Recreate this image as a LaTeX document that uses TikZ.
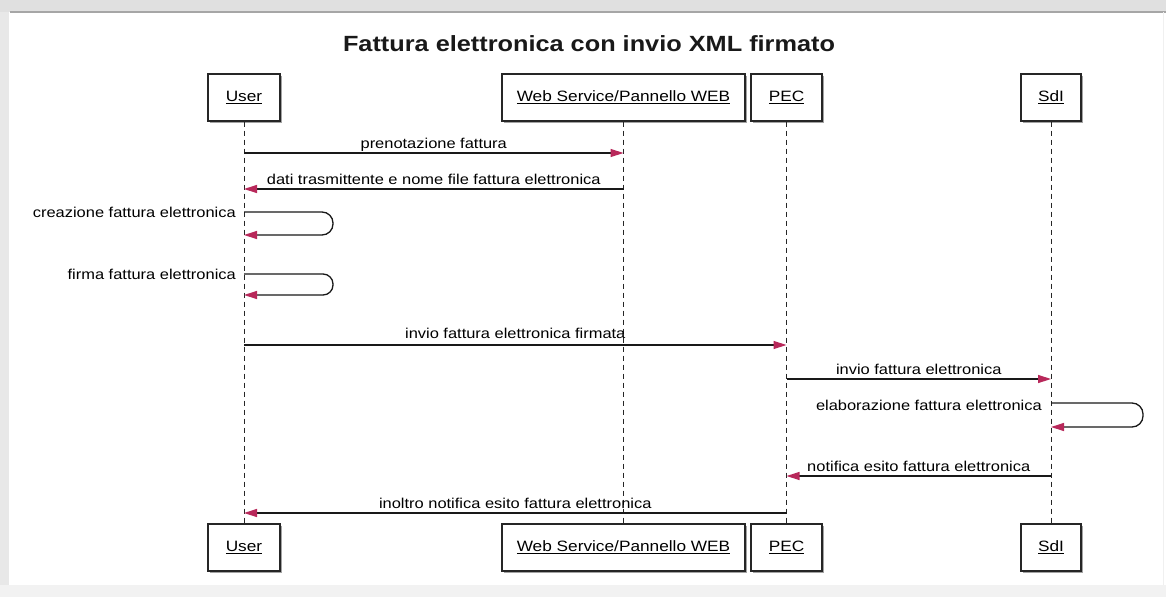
\documentclass[tikz,border=0pt]{standalone}
\usepackage{fontspec}
\setmainfont{Liberation Sans}
\newfontfamily\lblfont[FakeStretch=1.15]{Liberation Sans}
\usetikzlibrary{arrows.meta,calc,shadows}
\definecolor{tipred}{HTML}{B8285A}
\begin{document}
\begin{tikzpicture}[x=1pt,y=-1pt,
  actor/.style={draw=black!85,line width=1.4pt,fill=white,minimum height=47pt,inner sep=0pt,
    drop shadow={shadow xshift=1.5pt,shadow yshift=-1.5pt,fill=black!45,opacity=0.8},
    font=\lblfont\fontsize{15}{18}\selectfont},
  life/.style={black!85,line width=1pt,dash pattern=on 5pt off 4pt},
  msg/.style={black!90,line width=1.3pt,-{Triangle[length=13pt,width=8pt,color=tipred]}},
  lbl/.style={font=\lblfont\fontsize{14.3}{17}\selectfont,inner sep=0pt,anchor=base},
  slbl/.style={font=\lblfont\fontsize{14.3}{17}\selectfont,inner sep=0pt,anchor=base east},
]
\useasboundingbox (0,0) rectangle (1166,597);
% page frame
\fill[white] (0,0) rectangle (1166,597);
\fill[black!12] (0,0) rectangle (1166,12);
\draw[black!35,line width=1.5pt] (10,12) -- (1166,12);
\fill[black!9] (0,12) rectangle (9,585);
\fill[black!5] (0,585) rectangle (1166,597);
\draw[black!6,line width=1pt] (1163,12) -- (1163,585);

% title
\node[font=\lblfont\bfseries\fontsize{22}{26}\selectfont,text=black!90] (title) at (589,44) {Fattura elettronica con invio XML firmato};

% actors top
\node[actor,minimum width=72pt] (uT) at (244,97.5) {\underline{User}};
\node[actor,minimum width=243pt] (wT) at (623.5,97.5) {\underline{Web Service/Pannello WEB}};
\node[actor,minimum width=71pt] (pT) at (786.5,97.5) {\underline{PEC}};
\node[actor,minimum width=60pt] (sT) at (1051,97.5) {\underline{SdI}};
% actors bottom
\node[actor,minimum width=72pt] (uB) at (244,547.5) {\underline{User}};
\node[actor,minimum width=243pt] (wB) at (623.5,547.5) {\underline{Web Service/Pannello WEB}};
\node[actor,minimum width=71pt] (pB) at (786.5,547.5) {\underline{PEC}};
\node[actor,minimum width=60pt] (sB) at (1051,547.5) {\underline{SdI}};

% lifelines
\draw[life] (uT.south) -- (uB.north);
\draw[life] (wT.south) -- (wB.north);
\draw[life] (pT.south) -- (pB.north);
\draw[life] (sT.south) -- (sB.north);

% message end points
\coordinate (u1) at (uT.center |- 0,153);
\coordinate (w1) at (wT.center |- 0,153);
\coordinate (w2) at (wT.center |- 0,189);
\coordinate (u2) at (uT.center |- 0,189);
\coordinate (u3a) at (uT.center |- 0,212);
\coordinate (u3b) at (uT.center |- 0,235);
\coordinate (u4a) at (uT.center |- 0,274);
\coordinate (u4b) at (uT.center |- 0,295);
\coordinate (u5) at (uT.center |- 0,345);
\coordinate (p5) at (pT.center |- 0,345);
\coordinate (p6) at (pT.center |- 0,379);
\coordinate (s6) at (sT.center |- 0,379);
\coordinate (s7a) at (sT.center |- 0,403);
\coordinate (s7b) at (sT.center |- 0,427);
\coordinate (s8) at (sT.center |- 0,476);
\coordinate (p8) at (pT.center |- 0,476);
\coordinate (p9) at (pT.center |- 0,513);
\coordinate (u9) at (uT.center |- 0,513);

% messages
\draw[msg] (u1) -- (w1);
\node[lbl] (l1) at ($(u1)!0.5!(w1)+(0,-5)$) {prenotazione fattura};
\draw[msg] (w2) -- (u2);
\node[lbl] (l2) at ($(u2)!0.5!(w2)+(0,-5)$) {dati trasmittente e nome file fattura elettronica};
\draw[msg,rounded corners=11pt] (u3a) -- (333,212) -- (333,235) -- (u3b);
\node[slbl] (l3) at ($(u3a)+(-8,5)$) {creazione fattura elettronica};
\draw[msg,rounded corners=10pt] (u4a) -- (333,274) -- (333,295) -- (u4b);
\node[slbl] (l4) at ($(u4a)+(-8,5)$) {firma fattura elettronica};
\draw[msg] (u5) -- (p5);
\node[lbl] (l5) at ($(u5)!0.5!(p5)+(0,-7)$) {invio fattura elettronica firmata};
\draw[msg] (p6) -- (s6);
\node[lbl] (l6) at ($(p6)!0.5!(s6)+(0,-5)$) {invio fattura elettronica};
\draw[msg,rounded corners=11pt] (s7a) -- (1143,403) -- (1143,427) -- (s7b);
\node[slbl] (l7) at ($(s7a)+(-9,7)$) {elaborazione fattura elettronica};
\draw[msg] (s8) -- (p8);
\node[lbl] (l8) at ($(p8)!0.5!(s8)+(0,-5)$) {notifica esito fattura elettronica};
\draw[msg] (p9) -- (u9);
\node[lbl] (l9) at ($(u9)!0.5!(p9)+(0,-5)$) {inoltro notifica esito fattura elettronica};
\end{tikzpicture}
\end{document}
